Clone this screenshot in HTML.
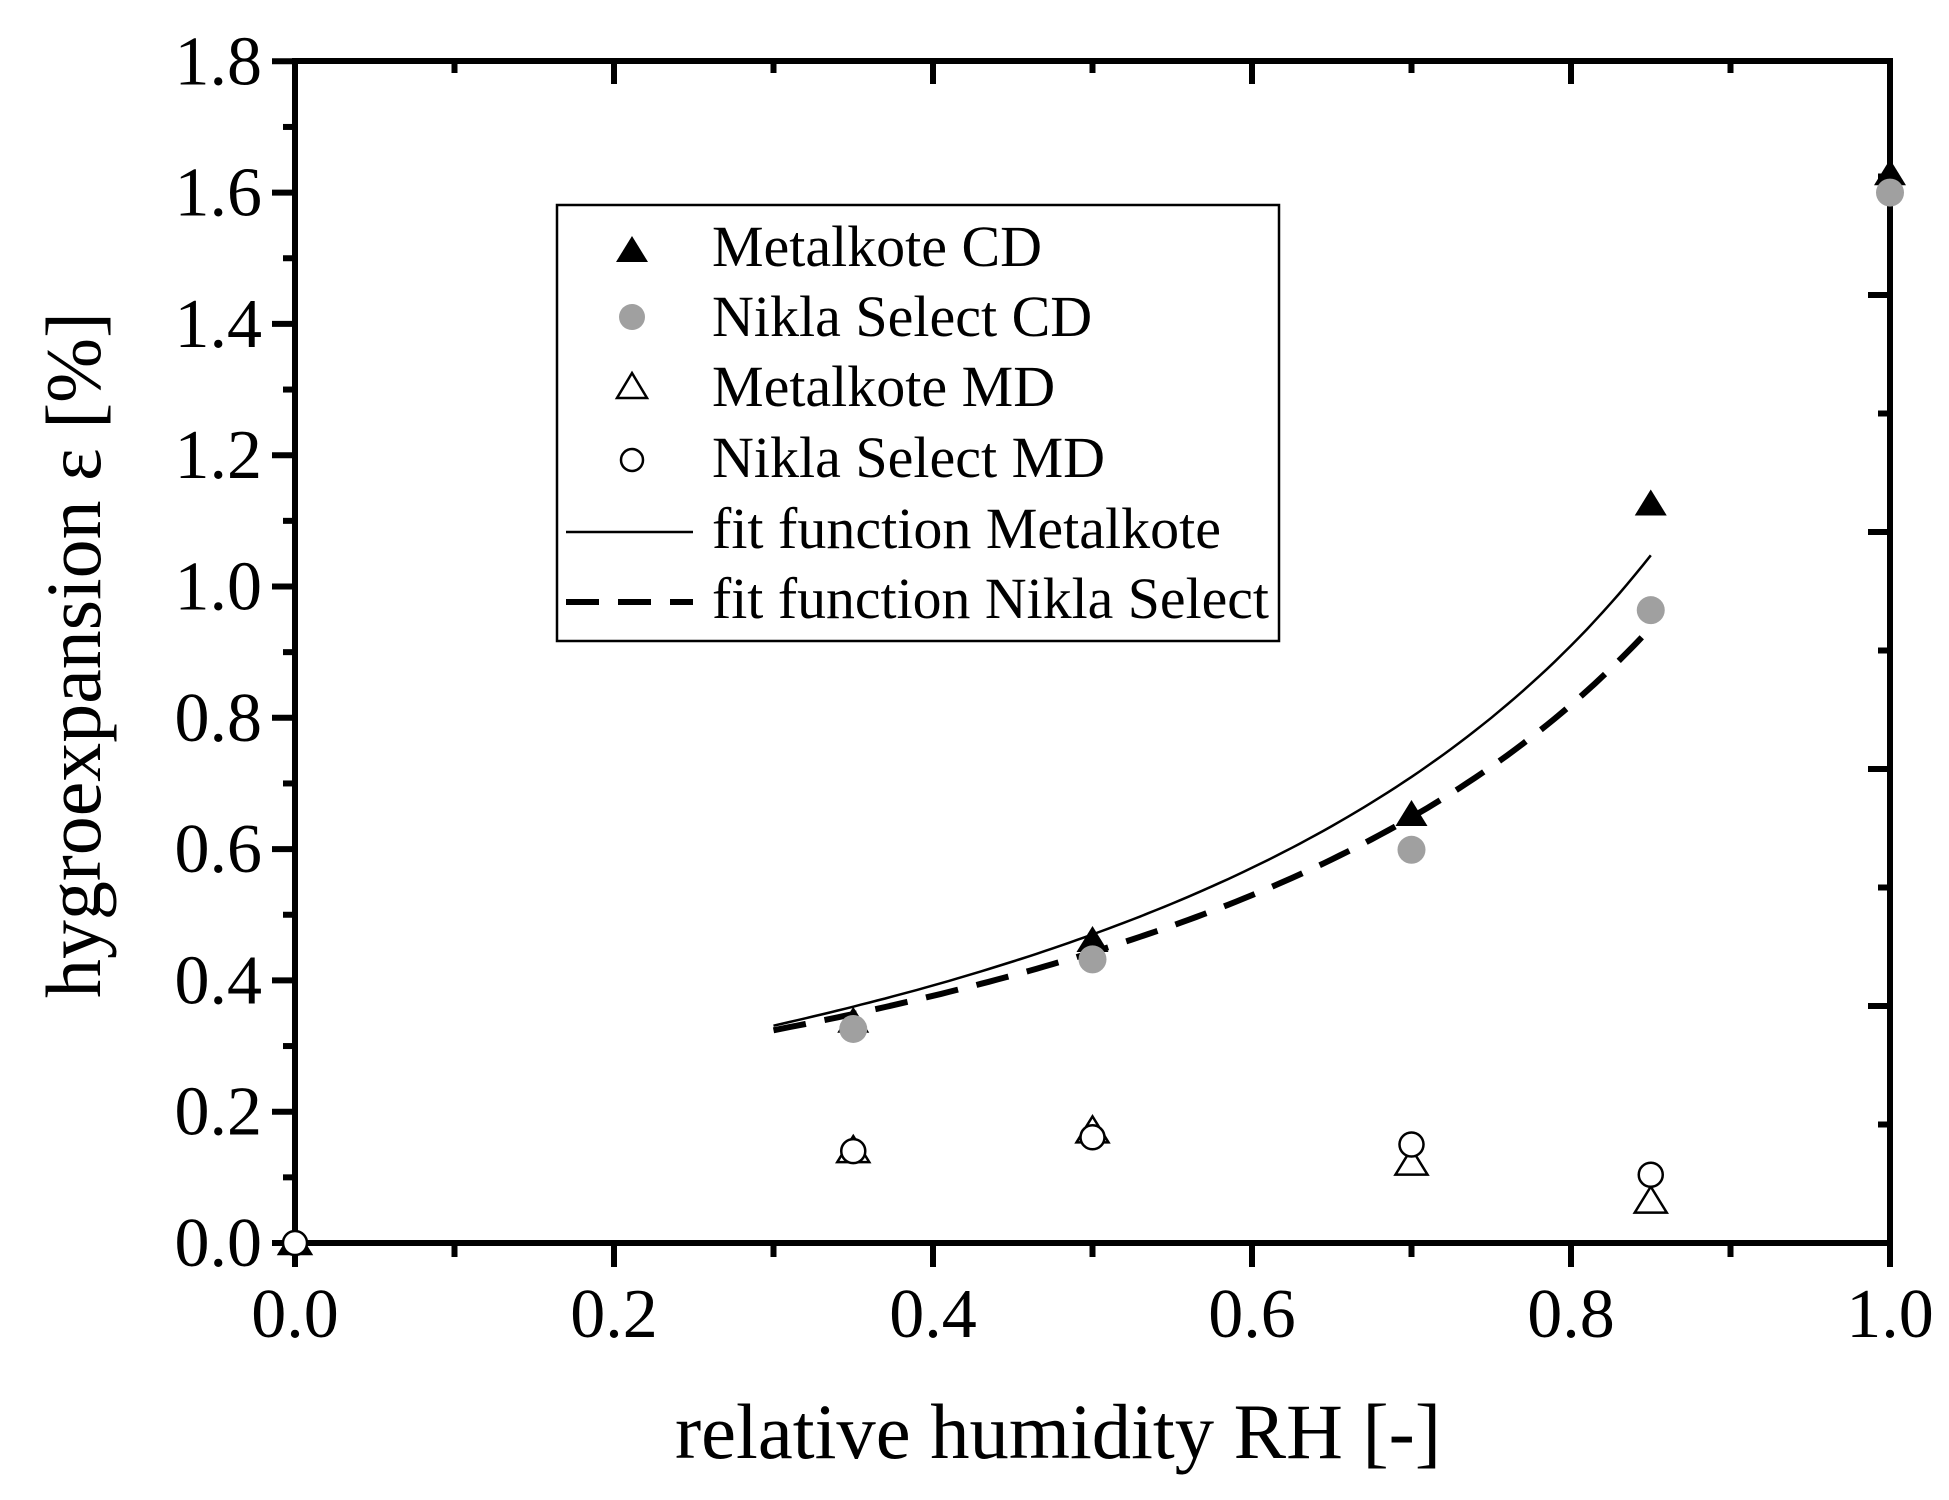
<!DOCTYPE html>
<html><head><meta charset="utf-8"><style>
html,body{margin:0;padding:0;background:#fff;}
svg{display:block;}
text{font-family:"Liberation Serif","Times New Roman",serif;fill:#000;}
</style></head><body>
<svg id="s" width="1949" height="1500" viewBox="0 0 1949 1500" xmlns="http://www.w3.org/2000/svg">
<rect width="1949" height="1500" fill="#fff"/>
<g id="g"></g>
<text x="1058" y="1458" font-size="78" text-anchor="middle" textLength="766" lengthAdjust="spacingAndGlyphs">relative humidity RH [-]</text>
<text transform="translate(100,655) rotate(-90)" font-size="78" text-anchor="middle" textLength="686" lengthAdjust="spacingAndGlyphs">hygroexpansion ε [%]</text>
<rect x="557" y="205" width="722" height="436" fill="#fff" stroke="#000" stroke-width="2.5"/>
<g font-size="58">
<text x="712" y="266" textLength="330" lengthAdjust="spacingAndGlyphs">Metalkote CD</text>
<text x="712" y="336">Nikla Select CD</text>
<text x="712" y="406">Metalkote MD</text>
<text x="712" y="477">Nikla Select MD</text>
<text x="712" y="548">fit function Metalkote</text>
<text x="712" y="618" textLength="557" lengthAdjust="spacingAndGlyphs">fit function Nikla Select</text>
</g>
<polygon points="632,236 648,262 616,262" fill="#000"/>
<circle cx="632" cy="317" r="13" fill="#a0a0a0"/>
<polygon points="632,373 647,398 617,398" fill="none" stroke="#000" stroke-width="2.5"/>
<circle cx="632" cy="460" r="11" fill="none" stroke="#000" stroke-width="2.5"/>
<line x1="566" y1="532" x2="693" y2="532" stroke="#000" stroke-width="2.5"/>
<line x1="566" y1="602" x2="693" y2="602" stroke="#000" stroke-width="6" stroke-dasharray="33,19"/>
</svg>
<script>
var X=function(v){return 295+1595*v;}, Y=function(v){return 1243-656.5*v;};
var h='';
h+='<rect x="295" y="61" width="1595" height="1182" fill="none" stroke="#000" stroke-width="6"/>';
for(var i=0;i<=18;i++){var y=Y(i*0.1);var L=(i%2==0)?23:12;h+='<line x1="'+(295-L)+'" y1="'+y+'" x2="295" y2="'+y+'" stroke="#000" stroke-width="6"/>';
 if(i%2==0){h+='<text x="262" y="'+(y+23)+'" font-size="70" text-anchor="end">'+(i/10).toFixed(1)+'</text>';}}
for(var i=0;i<=10;i++){var x=X(i*0.1);var L=(i%2==0)?24:14;h+='<line x1="'+x+'" y1="1243" x2="'+x+'" y2="'+(1243+L)+'" stroke="#000" stroke-width="6"/>';
 h+='<line x1="'+x+'" y1="61" x2="'+x+'" y2="'+(61+((i%2==0)?23:12))+'" stroke="#000" stroke-width="6"/>';
 if(i%2==0){h+='<text x="'+x+'" y="1337" font-size="70" text-anchor="middle">'+(i/10).toFixed(1)+'</text>';}}
for(var k=1;k<=9;k++){var y=1243-118.5*k;var L=(k%2==0)?22:12;h+='<line x1="'+(1890-L)+'" y1="'+y+'" x2="1890" y2="'+y+'" stroke="#000" stroke-width="6"/>';}
function fit(a,c,b){var p='';for(var v=0.3;v<=0.8501;v+=0.005){p+=(p?'L':'M')+X(v).toFixed(1)+','+Y(a+c/(1-b*v)).toFixed(1);}return p;}
h+='<path d="'+fit(-0.19,0.396,0.8)+'" fill="none" stroke="#000" stroke-width="2.5"/>';
h+='<path d="'+fit(-0.122,0.339,0.8)+'" fill="none" stroke="#000" stroke-width="6" stroke-dasharray="33,19"/>';
function tri(x,y,fill){return '<polygon points="'+x+','+(y-15)+' '+(x+16)+','+(y+11)+' '+(x-16)+','+(y+11)+'" fill="'+(fill?'#000':'none')+'" stroke="#000" stroke-width="'+(fill?0:2.5)+'"/>';}
var mCD=[[0,0],[0.35,0.337],[0.5,0.46],[0.7,0.652],[0.85,1.125],[1,1.628]];
var nCD=[[0.35,0.326],[0.5,0.432],[0.7,0.599],[0.85,0.964],[1,1.6]];
var mMD=[[0,0],[0.35,0.14],[0.5,0.17],[0.7,0.121],[0.85,0.063]];
var nMD=[[0,0],[0.35,0.14],[0.5,0.161],[0.7,0.15],[0.85,0.104]];
mCD.forEach(function(p){h+=tri(X(p[0]),Y(p[1]),true);});
nCD.forEach(function(p){h+='<circle cx="'+X(p[0])+'" cy="'+Y(p[1])+'" r="14" fill="#a0a0a0"/>';});
mMD.forEach(function(p){h+=tri(X(p[0]),Y(p[1]),false);});
nMD.forEach(function(p){h+='<circle cx="'+X(p[0])+'" cy="'+Y(p[1])+'" r="12" fill="#fff" stroke="#000" stroke-width="2.5"/>';});
document.getElementById('g').innerHTML=h;
</script>
</body></html>
